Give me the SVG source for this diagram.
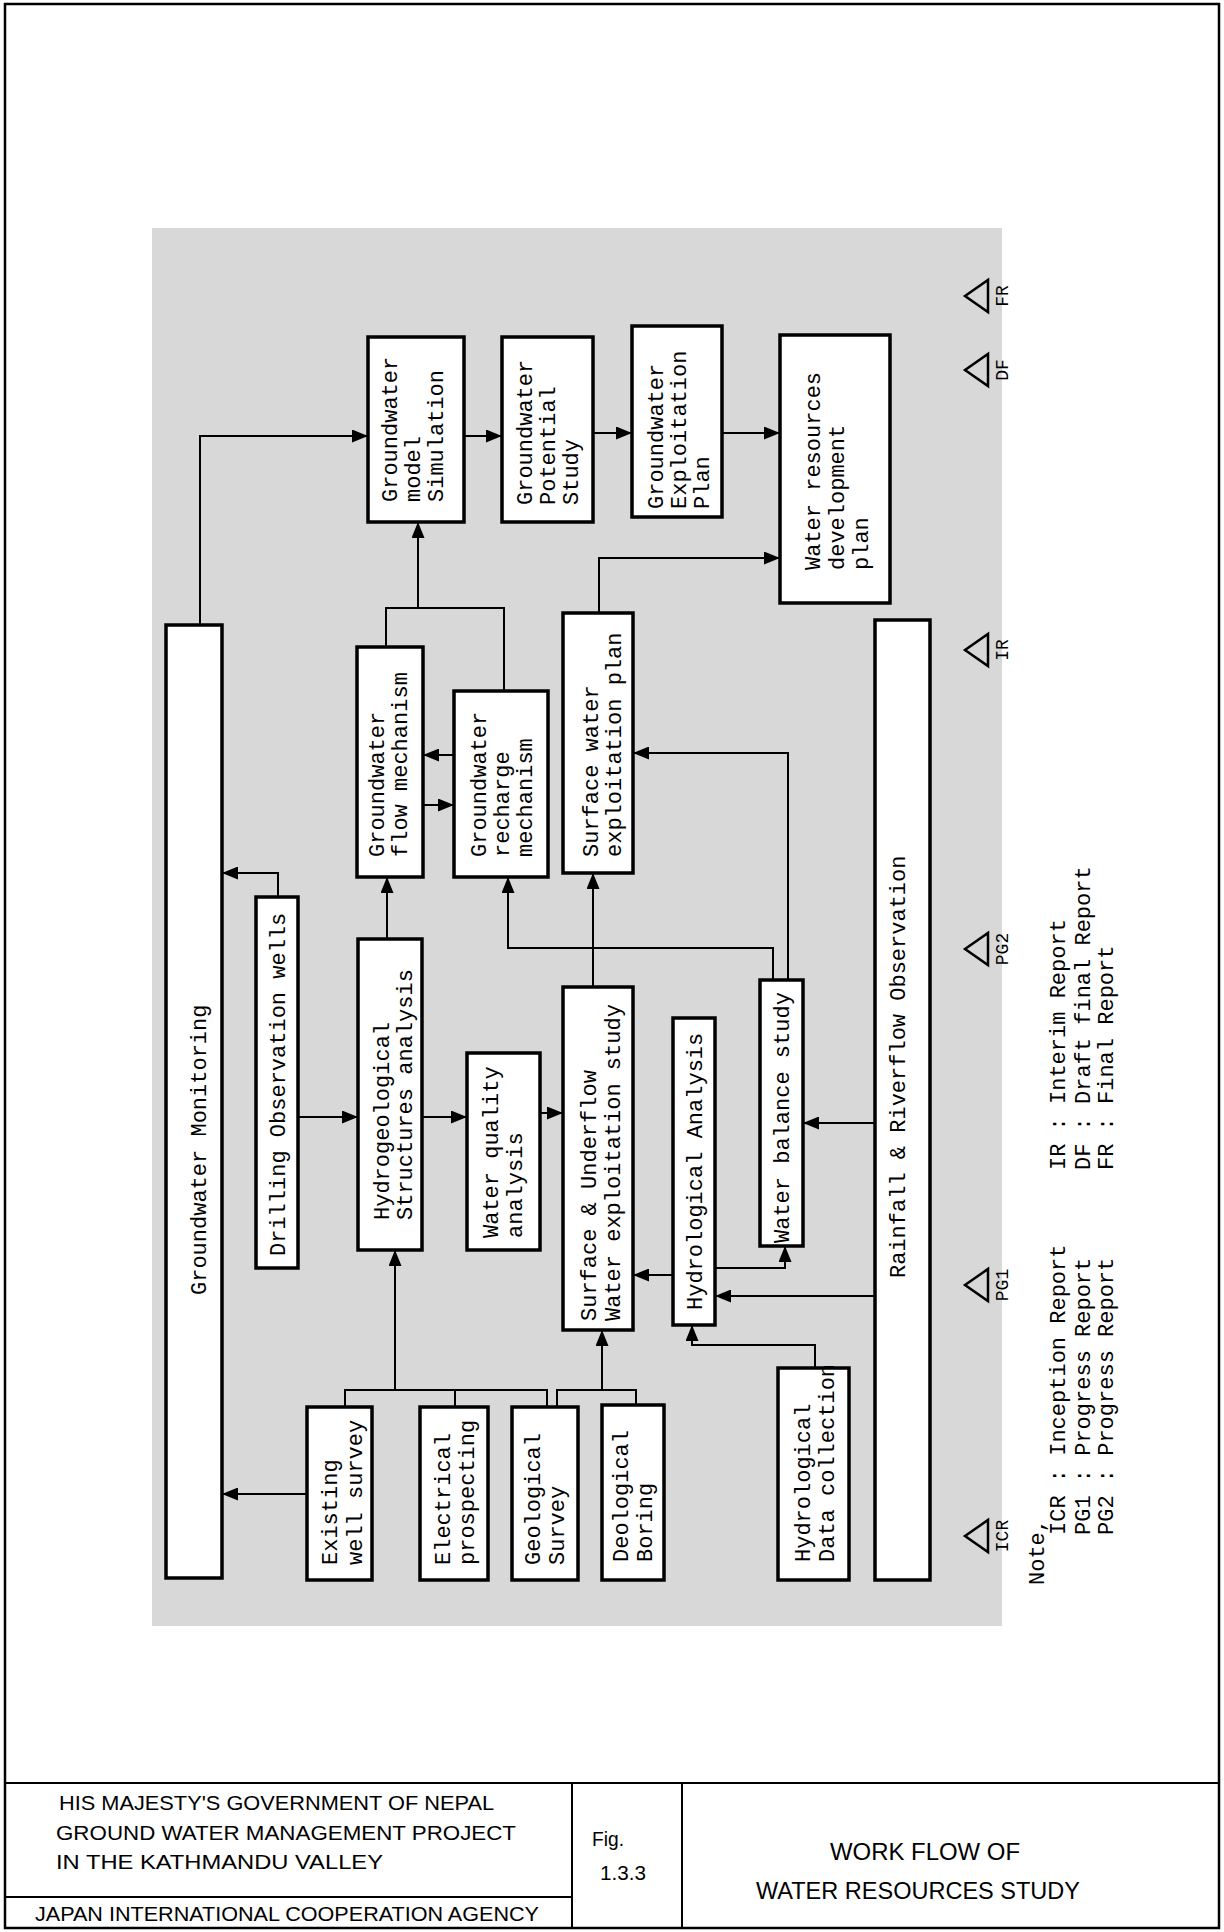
<svg xmlns="http://www.w3.org/2000/svg" width="1224" height="1932" viewBox="0 0 1224 1932">
<style>
.box{fill:#fff;stroke:#000;stroke-width:3.5}
.ln{fill:none;stroke:#000;stroke-width:2}
.t{font-family:"Liberation Mono","Courier New",monospace;font-size:22px;fill:#000}
.lb{font-family:"Liberation Mono","Courier New",monospace;font-size:18px;fill:#000}
.tb{font-family:"Liberation Sans",Arial,sans-serif;font-size:21px;fill:#000}
.tt{font-family:"Liberation Sans",Arial,sans-serif;font-size:23px;fill:#000}
.tri{fill:none;stroke:#000;stroke-width:2.5}
</style>
<defs>
<marker id="ah" markerWidth="16" markerHeight="13" refX="16" refY="6.5" orient="auto" markerUnits="userSpaceOnUse"><path d="M0,0 L16,6.5 L0,13 z" fill="#000"/></marker>
</defs>
<rect x="0" y="0" width="1224" height="1932" fill="#fff"/>
<rect x="5" y="4" width="1214" height="1924" fill="none" stroke="#000" stroke-width="2.5"/>
<rect x="152" y="228" width="850" height="1398" fill="#d8d8d8"/>

<g id="connectors">
<path class="ln" d="M200,625 V436 H368" marker-end="url(#ah)"/>
<path class="ln" d="M464,436 H502" marker-end="url(#ah)"/>
<path class="ln" d="M593,433 H632" marker-end="url(#ah)"/>
<path class="ln" d="M722,433 H780" marker-end="url(#ah)"/>
<path class="ln" d="M599,613 V558 H780" marker-end="url(#ah)"/>
<path class="ln" d="M386,647 V608 H504 V691"/>
<path class="ln" d="M418,608 V522" marker-end="url(#ah)"/>
<path class="ln" d="M278,897 V873 H222" marker-end="url(#ah)"/>
<path class="ln" d="M387,939 V877" marker-end="url(#ah)"/>
<path class="ln" d="M454,755 H423" marker-end="url(#ah)"/>
<path class="ln" d="M423,805 H454" marker-end="url(#ah)"/>
<path class="ln" d="M773,980 V948 H508 V877" marker-end="url(#ah)"/>
<path class="ln" d="M788,980 V753 H633" marker-end="url(#ah)"/>
<path class="ln" d="M593,987 V873" marker-end="url(#ah)"/>
<path class="ln" d="M297,1117 H358" marker-end="url(#ah)"/>
<path class="ln" d="M422,1117 H467" marker-end="url(#ah)"/>
<path class="ln" d="M540,1113 H563" marker-end="url(#ah)"/>
<path class="ln" d="M673,1275 H633" marker-end="url(#ah)"/>
<path class="ln" d="M715,1268 H785 V1246" marker-end="url(#ah)"/>
<path class="ln" d="M875,1123 H803" marker-end="url(#ah)"/>
<path class="ln" d="M875,1296 H715" marker-end="url(#ah)"/>
<path class="ln" d="M815,1368 V1345 H692 V1325" marker-end="url(#ah)"/>
<path class="ln" d="M345,1407 V1390 H547 V1407 M455,1407 V1390"/>
<path class="ln" d="M395,1390 V1250" marker-end="url(#ah)"/>
<path class="ln" d="M557,1407 V1390 H636 V1405"/>
<path class="ln" d="M602,1390 V1330" marker-end="url(#ah)"/>
<path class="ln" d="M307,1494 H222" marker-end="url(#ah)"/>
</g>

<g id="n-gw-monitoring"><rect class="box" x="166" y="625" width="56" height="953"/>
<text class="t" transform="translate(206,1295) rotate(-90)">Groundwater Monitoring</text></g>
<g id="n-simulation"><rect class="box" x="368" y="337" width="96" height="185"/>
<text class="t" transform="translate(397,502) rotate(-90)">Groundwater</text>
<text class="t" transform="translate(420,502) rotate(-90)">model</text>
<text class="t" transform="translate(443,502) rotate(-90)">Simulation</text></g>
<g id="n-potential"><rect class="box" x="502" y="337" width="91" height="185"/>
<text class="t" transform="translate(532,505) rotate(-90)">Groundwater</text>
<text class="t" transform="translate(555,505) rotate(-90)">Potential</text>
<text class="t" transform="translate(578,505) rotate(-90)">Study</text></g>
<g id="n-gw-exploitation"><rect class="box" x="632" y="326" width="90" height="191"/>
<text class="t" transform="translate(663,509) rotate(-90)">Groundwater</text>
<text class="t" transform="translate(686,509) rotate(-90)">Exploitation</text>
<text class="t" transform="translate(709,509) rotate(-90)">Plan</text></g>
<g id="n-wrdp"><rect class="box" x="780" y="335" width="110" height="268"/>
<text class="t" transform="translate(820,570) rotate(-90)">Water resources</text>
<text class="t" transform="translate(844,570) rotate(-90)">development</text>
<text class="t" transform="translate(868,570) rotate(-90)">plan</text></g>
<g id="n-flow"><rect class="box" x="357" y="647" width="66" height="230"/>
<text class="t" transform="translate(384,857) rotate(-90)">Groundwater</text>
<text class="t" transform="translate(407,857) rotate(-90)">flow mechanism</text></g>
<g id="n-recharge"><rect class="box" x="454" y="691" width="94" height="186"/>
<text class="t" transform="translate(486,857) rotate(-90)">Groundwater</text>
<text class="t" transform="translate(509,857) rotate(-90)">recharge</text>
<text class="t" transform="translate(532,857) rotate(-90)">mechanism</text></g>
<g id="n-sw-plan"><rect class="box" x="563" y="613" width="70" height="260"/>
<text class="t" transform="translate(598,857) rotate(-90)">Surface water</text>
<text class="t" transform="translate(621,857) rotate(-90)">exploitation plan</text></g>
<g id="n-drilling"><rect class="box" x="256" y="897" width="42" height="371"/>
<text class="t" transform="translate(285,1256) rotate(-90)">Drilling Observation wells</text></g>
<g id="n-hydrogeo"><rect class="box" x="358" y="939" width="64" height="311"/>
<text class="t" transform="translate(389,1220) rotate(-90)">Hydrogeological</text>
<text class="t" transform="translate(412,1220) rotate(-90)">Structures analysis</text></g>
<g id="n-wq"><rect class="box" x="467" y="1053" width="73" height="197"/>
<text class="t" transform="translate(498,1238) rotate(-90)">Water quality</text>
<text class="t" transform="translate(522,1238) rotate(-90)">analysis</text></g>
<g id="n-su"><rect class="box" x="563" y="987" width="70" height="343"/>
<text class="t" transform="translate(596,1321) rotate(-90)">Surface &amp; Underflow</text>
<text class="t" transform="translate(620,1321) rotate(-90)">Water exploitation study</text></g>
<g id="n-ha"><rect class="box" x="673" y="1018" width="42" height="307"/>
<text class="t" transform="translate(702,1310) rotate(-90)">Hydrological Analysis</text></g>
<g id="n-wb"><rect class="box" x="760" y="980" width="43" height="266"/>
<text class="t" transform="translate(789,1243) rotate(-90)">Water balance study</text></g>
<g id="n-rainfall"><rect class="box" x="875" y="620" width="55" height="960"/>
<text class="t" transform="translate(905,1278) rotate(-90)">Rainfall &amp; Riverflow Observation</text></g>
<g id="n-existing"><rect class="box" x="307" y="1407" width="65" height="173"/>
<text class="t" transform="translate(337,1565) rotate(-90)">Existing</text>
<text class="t" transform="translate(362,1565) rotate(-90)">well survey</text></g>
<g id="n-electrical"><rect class="box" x="420" y="1407" width="68" height="173"/>
<text class="t" transform="translate(450,1565) rotate(-90)">Electrical</text>
<text class="t" transform="translate(474,1565) rotate(-90)">prospecting</text></g>
<g id="n-geological"><rect class="box" x="512" y="1407" width="66" height="173"/>
<text class="t" transform="translate(540,1565) rotate(-90)">Geological</text>
<text class="t" transform="translate(564,1565) rotate(-90)">Survey</text></g>
<g id="n-deological"><rect class="box" x="602" y="1405" width="62" height="175"/>
<text class="t" transform="translate(628,1562) rotate(-90)">Deological</text>
<text class="t" transform="translate(652,1562) rotate(-90)">Boring</text></g>
<g id="n-hdc"><rect class="box" x="778" y="1368" width="71" height="212"/>
<text class="t" transform="translate(810,1562) rotate(-90)">Hydrological</text>
<text class="t" transform="translate(834,1562) rotate(-90)">Data collection</text></g>

<g id="milestones">
<polygon class="tri" points="965,296 988,280 988,312"/>
<text class="lb" text-anchor="middle" transform="translate(1008,296) rotate(-90)">FR</text>
<polygon class="tri" points="965,370 988,354 988,386"/>
<text class="lb" text-anchor="middle" transform="translate(1008,370) rotate(-90)">DF</text>
<polygon class="tri" points="965,650 988,634 988,666"/>
<text class="lb" text-anchor="middle" transform="translate(1008,650) rotate(-90)">IR</text>
<polygon class="tri" points="965,949 988,933 988,965"/>
<text class="lb" text-anchor="middle" transform="translate(1008,949) rotate(-90)">PG2</text>
<polygon class="tri" points="965,1285 988,1269 988,1301"/>
<text class="lb" text-anchor="middle" transform="translate(1008,1285) rotate(-90)">PG1</text>
<polygon class="tri" points="965,1536 988,1520 988,1552"/>
<text class="lb" text-anchor="middle" transform="translate(1008,1536) rotate(-90)">ICR</text>
</g>

<g id="note">
<text class="t" transform="translate(1044,1585) rotate(-90)">Note,</text>
<text class="t" transform="translate(1065,1535) rotate(-90)">ICR : Inception Report</text>
<text class="t" transform="translate(1090,1535) rotate(-90)">PG1 : Progress Report</text>
<text class="t" transform="translate(1113,1535) rotate(-90)">PG2 : Progress Report</text>
<text class="t" transform="translate(1065,1170) rotate(-90)">IR : Interim Report</text>
<text class="t" transform="translate(1090,1170) rotate(-90)">DF : Draft final Report</text>
<text class="t" transform="translate(1113,1170) rotate(-90)">FR : Final Report</text>
</g>

<g id="title-block">
<path class="ln" d="M5,1783 H1219 M572,1783 V1928 M682,1783 V1928 M5,1897 H572" stroke-width="2.5"/>
<text class="tb" x="59" y="1810" textLength="435" lengthAdjust="spacingAndGlyphs">HIS MAJESTY'S GOVERNMENT OF NEPAL</text>
<text class="tb" x="56" y="1840" textLength="460" lengthAdjust="spacingAndGlyphs">GROUND WATER MANAGEMENT PROJECT</text>
<text class="tb" x="56" y="1869" textLength="327" lengthAdjust="spacingAndGlyphs">IN THE KATHMANDU VALLEY</text>
<text class="tb" x="35" y="1921" textLength="504" lengthAdjust="spacingAndGlyphs">JAPAN INTERNATIONAL COOPERATION AGENCY</text>
<text class="tb" x="592" y="1846" textLength="32" lengthAdjust="spacingAndGlyphs">Fig.</text>
<text class="tb" x="600" y="1880" textLength="46" lengthAdjust="spacingAndGlyphs">1.3.3</text>
<text class="tt" x="830" y="1860" textLength="190" lengthAdjust="spacingAndGlyphs">WORK FLOW OF</text>
<text class="tt" x="756" y="1899" textLength="324" lengthAdjust="spacingAndGlyphs">WATER RESOURCES STUDY</text>
</g>
</svg>
